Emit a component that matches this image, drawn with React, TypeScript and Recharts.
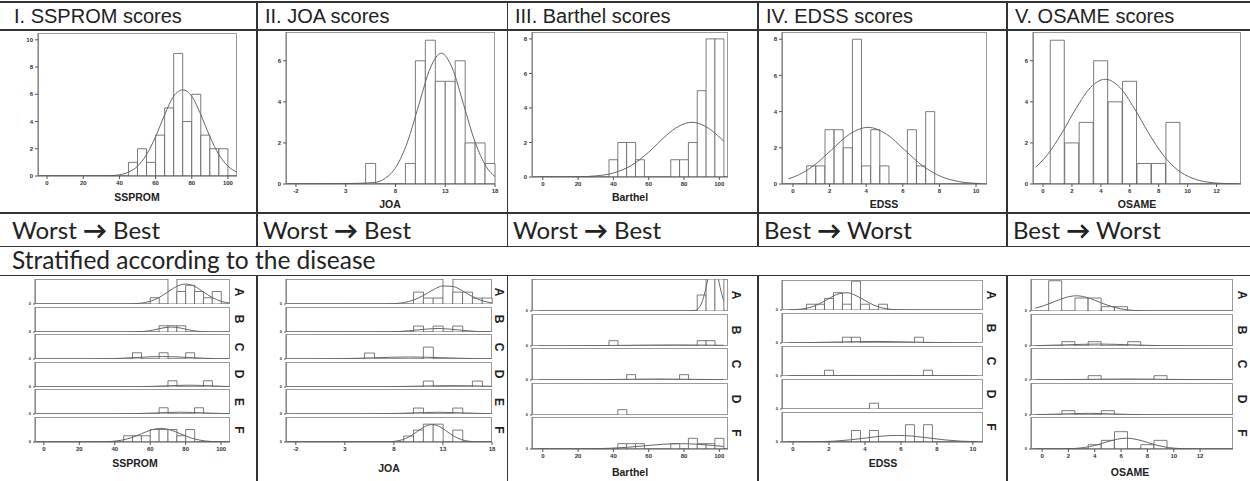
import React from "react";
import { Bar, ComposedChart, Line, XAxis, YAxis } from "recharts";

type Pair = [number, number];

// ---------- whole sample: [bin centre, count] ----------
const sspromCounts: Pair[] = [[47.5, 1], [52.5, 2], [57.5, 1], [62.5, 3], [67.5, 5], [72.5, 9], [77.5, 4], [82.5, 6], [87.5, 3], [92.5, 2], [97.5, 2]];
const joaCounts: Pair[] = [[5.5, 1], [9.5, 1], [10.5, 6], [11.5, 7], [12.5, 5], [13.5, 5], [14.5, 6], [15.5, 2], [16.5, 2], [17.5, 1]];
const barthelCounts: Pair[] = [[40, 1], [45, 2], [50, 2], [55, 1], [75, 1], [80, 1], [85, 2], [90, 5], [95, 8], [100, 8]];
const edssCounts: Pair[] = [[1, 1], [1.5, 1], [2, 3], [2.5, 3], [3, 2], [3.5, 8], [4, 1], [4.5, 3], [5, 1], [6.5, 3], [7, 1], [7.5, 4]];
const osameCounts: Pair[] = [[1, 7], [2, 2], [3, 3], [4, 6], [5, 4], [6, 5], [7, 1], [8, 1], [9, 3]];

// normal curves: [x, height]
const sspromCurve: Pair[] = [[-5, 0], [30, 0.01], [35, 0.02], [40, 0.09], [45, 0.28], [50, 0.72], [55, 1.57], [60, 2.89], [65, 4.5], [70, 5.86], [75, 6.32], [80, 5.86], [85, 4.5], [90, 2.89], [95, 1.57], [100, 0.72], [105, 0.28]];
const joaCurve: Pair[] = [[-3, 0], [4, 0.03], [5.85, 0.07], [7, 0.29], [8.1, 0.86], [9.2, 2.04], [10.35, 3.86], [11.5, 5.65], [12.6, 6.37], [13.7, 5.65], [14.85, 3.86], [16, 2.04], [17.1, 0.86], [18, 0.36]];
const barthelCurve: Pair[] = [[-5, 0], [20, 0.013], [30, 0.064], [40, 0.23], [50, 0.66], [60, 1.44], [70, 2.41], [77, 2.94], [84.5, 3.17], [92, 2.94], [99, 2.41], [107, 1.6]];
const edssCurve: Pair[] = [[-0.6, 0.19], [0.1, 0.41], [1.1, 0.99], [2.1, 1.88], [3.1, 2.76], [4.1, 3.13], [5.1, 2.76], [6.1, 1.88], [7.1, 0.99], [8.1, 0.41], [9.1, 0.13], [10.1, 0.03], [10.6, 0.01]];
const osameCurve: Pair[] = [[-0.7, 0.69], [0.3, 1.42], [1.3, 2.48], [2.3, 3.7], [3.3, 4.71], [4.3, 5.1], [5.3, 4.71], [6.3, 3.7], [7.3, 2.48], [8.3, 1.42], [9.3, 0.69], [10.3, 0.29], [11.3, 0.1], [12.3, 0.03], [13.7, 0]];

// ---------- stratified by disease ----------
const sspromA: Pair[] = [[62.5, 1], [72.5, 5], [77.5, 2], [82.5, 3], [87.5, 2], [92.5, 1], [97.5, 2]];
const sspromB: Pair[] = [[67.5, 1], [72.5, 1], [77.5, 1]];
const sspromC: Pair[] = [[52.5, 1], [67.5, 1], [82.5, 1]];
const sspromD: Pair[] = [[72.5, 1], [92.5, 1]];
const sspromE: Pair[] = [[67.5, 1], [87.5, 1]];
const sspromF: Pair[] = [[47.5, 1], [52.5, 1], [57.5, 1], [62.5, 2], [67.5, 2], [72.5, 2], [77.5, 1], [82.5, 2]];
const sspromCurveA: Pair[] = [[-5, 0], [40, 0], [45, 0.01], [50, 0.04], [55, 0.14], [60, 0.43], [65, 1.04], [70, 1.94], [75, 2.82], [80, 3.19], [85, 2.82], [90, 1.94], [95, 1.04], [100, 0.43], [105, 0.14]];
const sspromCurveB: Pair[] = [[-5, 0], [45, 0], [50, 0.01], [57, 0.11], [62, 0.33], [67, 0.64], [72, 0.8], [77, 0.64], [82, 0.33], [87, 0.11], [94, 0.01], [105, 0]];
const sspromCurveC: Pair[] = [[-5, 0], [22, 0.004], [37, 0.05], [52, 0.24], [67, 0.4], [82, 0.24], [97, 0.05], [105, 0.02]];
const sspromCurveD: Pair[] = [[-5, 0], [40, 0.003], [54, 0.04], [68, 0.17], [82, 0.29], [96, 0.17], [105, 0.07]];
const sspromCurveE: Pair[] = [[-5, 0], [35, 0.003], [49, 0.04], [63, 0.17], [77, 0.29], [91, 0.17], [105, 0.04]];
const sspromCurveF: Pair[] = [[-5, 0], [33, 0.02], [38.5, 0.1], [44, 0.3], [49.5, 0.7], [55, 1.32], [60.5, 1.92], [66, 2.18], [71.5, 1.92], [77, 1.32], [82.5, 0.7], [88, 0.3], [93.5, 0.1], [99, 0.02], [105, 0]];

const joaA: Pair[] = [[10.5, 2], [11.5, 1], [12.5, 1], [13.5, 5], [14.5, 2], [15.5, 2], [16.5, 1], [17.5, 1]];
const joaB: Pair[] = [[10.5, 1], [12.5, 1], [14.5, 1]];
const joaC: Pair[] = [[5.5, 1], [11.5, 2]];
const joaD: Pair[] = [[11.5, 1], [16.5, 1]];
const joaE: Pair[] = [[10.5, 1], [14.5, 1]];
const joaF: Pair[] = [[9.5, 1], [10.5, 2], [11.5, 3], [12.5, 3], [14.5, 2]];
const joaCurveA: Pair[] = [[-3, 0], [7, 0.01], [8, 0.06], [9, 0.23], [10, 0.66], [11, 1.43], [12, 2.39], [13, 3.03], [14, 2.95], [15, 2.2], [16, 1.25], [17, 0.55], [18, 0.18]];
const joaCurveB: Pair[] = [[-3, 0], [7, 0.01], [8.5, 0.08], [10.5, 0.36], [12.5, 0.6], [14.5, 0.36], [16.5, 0.08], [18, 0.01]];
const joaCurveC: Pair[] = [[-3, 0], [-1, 0.004], [2.5, 0.05], [6, 0.21], [9.5, 0.34], [13, 0.21], [16.5, 0.05], [18, 0.02]];
const joaCurveD: Pair[] = [[-3, 0], [3.5, 0.003], [7, 0.03], [10.5, 0.14], [14, 0.23], [17.5, 0.14], [18.2, 0.11]];
const joaCurveE: Pair[] = [[-3, 0], [4, 0.003], [7, 0.04], [9.7, 0.17], [12.5, 0.29], [15.3, 0.17], [18, 0.04]];
const joaCurveF: Pair[] = [[-3, 0], [7.4, 0.03], [8.15, 0.13], [8.9, 0.4], [9.65, 0.95], [10.4, 1.78], [11.15, 2.59], [11.9, 2.93], [12.65, 2.59], [13.4, 1.78], [14.15, 0.95], [14.9, 0.4], [15.65, 0.13], [16.4, 0.03], [18, 0]];

const barthelA: Pair[] = [[90, 3], [95, 6], [100, 6]];
const barthelB: Pair[] = [[40, 1], [90, 1], [95, 1]];
const barthelC: Pair[] = [[50, 1], [80, 1]];
const barthelD: Pair[] = [[45, 1]];
const barthelF: Pair[] = [[45, 1], [50, 1], [55, 1], [75, 1], [85, 2], [90, 1], [95, 1], [100, 2]];
const barthelCurveA: Pair[] = [[-5, 0], [80, 0], [86, 0.1], [88, 0.45], [90, 1.5], [92, 3.7], [94, 6.6], [96.5, 8.55], [99, 6.6], [101, 3.7], [103, 1.5], [105, 0.45], [107, 0.1]];
const barthelCurveB: Pair[] = [[-5, 0.01], [15, 0.03], [45, 0.12], [75, 0.2], [105, 0.12]];
const barthelCurveC: Pair[] = [[-5, 0.01], [23, 0.03], [44, 0.12], [65, 0.19], [86, 0.12], [107, 0.04]];
const barthelCurveF: Pair[] = [[-5, 0], [18, 0.01], [28, 0.04], [38, 0.14], [48, 0.32], [58, 0.61], [68, 0.88], [78, 1.0], [88, 0.88], [98, 0.61], [107, 0.35]];

const edssA: Pair[] = [[1, 1], [1.5, 1], [2, 2], [2.5, 3], [3, 1], [3.5, 5], [4, 1], [5, 1]];
const edssB: Pair[] = [[3, 1], [3.5, 1], [7, 1]];
const edssC: Pair[] = [[2, 1], [7.5, 1]];
const edssD: Pair[] = [[4.5, 1]];
const edssF: Pair[] = [[3.5, 2], [4.5, 2], [6.5, 3], [7.5, 3]];
const edssCurveA: Pair[] = [[-0.6, 0.01], [0, 0.05], [0.5, 0.17], [1, 0.49], [1.5, 1.13], [2, 2.0], [2.5, 2.77], [3, 2.99], [3.5, 2.5], [4, 1.64], [4.5, 0.83], [5, 0.33], [5.5, 0.1], [6, 0.03], [7, 0], [10.6, 0]];
const edssCurveB: Pair[] = [[-0.6, 0.02], [0, 0.03], [2.3, 0.16], [4.5, 0.27], [6.7, 0.16], [9, 0.03], [10.6, 0.01]];
const edssCurveC: Pair[] = [[-0.6, 0.04], [2.8, 0.09], [4.75, 0.1], [6.7, 0.09], [10.6, 0.03]];
const edssCurveF: Pair[] = [[-0.6, 0], [0.5, 0.01], [1.5, 0.05], [2.3, 0.15], [3.2, 0.38], [4.1, 0.71], [5, 1.03], [5.8, 1.14], [6.6, 1.03], [7.5, 0.71], [8.4, 0.38], [9.3, 0.15], [10.2, 0.05], [10.6, 0.03]];

const osameA: Pair[] = [[1, 7], [3, 3], [4, 3], [5, 1], [6, 1]];
const osameB: Pair[] = [[2, 1], [4, 1], [7, 1]];
const osameC: Pair[] = [[4, 1], [9, 1]];
const osameD: Pair[] = [[2, 1], [5, 1]];
const osameF: Pair[] = [[4, 1], [5, 2], [6, 4], [8, 1], [9, 2]];
const osameCurveA: Pair[] = [[-0.9, 0.42], [0, 1.09], [1, 2.25], [2, 3.29], [2.6, 3.52], [3.5, 3.05], [4.5, 1.87], [5.5, 0.83], [6.5, 0.25], [7.5, 0.06], [8.5, 0.01], [14.5, 0]];
const osameCurveB: Pair[] = [[-0.9, 0.05], [1.8, 0.27], [4.3, 0.45], [6.8, 0.27], [9.3, 0.06], [12, 0.01], [14.5, 0]];
const osameCurveC: Pair[] = [[-0.9, 0.03], [3, 0.14], [6.5, 0.23], [10, 0.14], [13.5, 0.03], [14.5, 0.01]];
const osameCurveD: Pair[] = [[-0.9, 0.04], [1.4, 0.23], [3.5, 0.38], [5.6, 0.23], [7.7, 0.05], [10, 0.003], [14.5, 0]];
const osameCurveF: Pair[] = [[-0.9, 0], [0.8, 0], [1.6, 0.03], [2.4, 0.11], [3.2, 0.34], [4, 0.81], [4.8, 1.52], [5.6, 2.2], [6.4, 2.5], [7.2, 2.2], [8, 1.52], [8.8, 0.81], [9.6, 0.34], [10.4, 0.11], [11.2, 0.03], [12, 0], [14.5, 0]];

// ---------- axis ticks ----------
const ticks0to100 = [0, 20, 40, 60, 80, 100];
const joaTicks = [-2, 3, 8, 13, 18];
const edssTicks = [0, 2, 4, 6, 8, 10];
const osameTicks = [0, 2, 4, 6, 8, 10, 12];

const headers = ["I. SSPROM scores", "II. JOA scores", "III. Barthel scores", "IV. EDSS scores", "V. OSAME scores"];
const directions = [["Worst", "Best"], ["Worst", "Best"], ["Worst", "Best"], ["Best", "Worst"], ["Best", "Worst"]];

type XCfg = { lo: number; bw: number; n: number; padL: number; padR: number; ticks: number[] };
type Box = { x: number; y: number; w: number; h: number };

const makeBins = (xc: XCfg, counts: Pair[]) =>
  Array.from({ length: xc.n }, (_, i) => {
    const c = xc.lo + xc.bw * (i + 0.5);
    const hit = counts.find(([v]) => Math.abs(v - c) < xc.bw / 4);
    return { bin: String(i), n: hit ? hit[1] : 0 };
  });

const FONT = "'Liberation Sans', Arial, sans-serif";
const CAL = "Lato, 'Open Sans', sans-serif";
const tickFont = { fontSize: 6, fontWeight: 700, fill: "#333", fontFamily: FONT };

function Hist({ box, xc, counts, curve, yDomain, yTicks, showX, small }: {
  box: Box; xc: XCfg; counts: Pair[]; curve: Pair[] | null;
  yDomain: [number, number]; yTicks: number[]; showX: boolean; small?: boolean;
}) {
  const yw = 22;
  const rm = 7;
  const xh = showX ? 14 : 0;
  const bm = showX ? 0 : 4;
  const hi = xc.lo + xc.bw * xc.n;
  const line = curve ? curve.map(([x, y]) => ({ x, y })) : [];
  return (
    <>
      {/* SPSS style plot frame */}
      <div style={{ position: "absolute", left: box.x, top: box.y, width: box.w, height: box.h, border: "1px solid #9a9a9a", boxSizing: "border-box" }} />
      <div style={{ position: "absolute", left: box.x - yw, top: box.y - 2 }}>
        <ComposedChart
          width={box.w + yw + rm}
          height={box.h + 2 + xh + bm}
          data={makeBins(xc, counts)}
          margin={{ top: 2, right: rm, bottom: bm, left: 0 }}
          barCategoryGap={0}
          barGap={0}
        >
          <XAxis
            xAxisId="num"
            dataKey="x"
            type="number"
            domain={[xc.lo, hi]}
            allowDataOverflow
            padding={{ left: xc.padL, right: xc.padR }}
            ticks={showX ? xc.ticks : []}
            interval={0}
            height={xh}
            tick={showX ? tickFont : false}
            tickSize={showX ? 3 : 0}
            tickLine={showX ? { stroke: "#555" } : false}
            axisLine={{ stroke: "#555" }}
          />
          <XAxis xAxisId="cat" dataKey="bin" type="category" hide height={0} orientation="top" padding={{ left: xc.padL, right: xc.padR }} />
          <YAxis
            yAxisId="l"
            type="number"
            domain={yDomain}
            allowDataOverflow
            ticks={yTicks}
            interval={0}
            width={yw}
            tick={{ ...tickFont, fontSize: small ? 4 : 6 }}
            tickSize={small ? 2 : 3}
            tickLine={{ stroke: "#555" }}
            axisLine={{ stroke: "#777" }}
          />
          <Bar xAxisId="cat" yAxisId="l" dataKey="n" fill="#fff" stroke="#5a5a5a" strokeWidth={0.8} isAnimationActive={false} />
          {curve && (
            <Line
              xAxisId="num"
              yAxisId="l"
              data={line}
              dataKey="y"
              type="monotone"
              stroke="#666"
              strokeWidth={1}
              dot={false}
              activeDot={false}
              isAnimationActive={false}
            />
          )}
        </ComposedChart>
      </div>
    </>
  );
}

type Row = { label: string; counts: Pair[]; curve: Pair[] | null };

function Strata({ x, w, y0, rowH, step, xc, rows, yMax, letterX }: {
  x: number; w: number; y0: number; rowH: number; step: number; xc: XCfg; rows: Row[]; yMax: number; letterX: number;
}) {
  return (
    <>
      {rows.map((r, i) => {
        const top = y0 + i * step;
        return (
          <React.Fragment key={r.label}>
            <Hist
              box={{ x, y: top, w, h: rowH }}
              xc={xc}
              counts={r.counts}
              curve={r.curve}
              yDomain={[0, yMax]}
              yTicks={[0]}
              showX={i === rows.length - 1}
              small
            />
            <div
              style={{
                position: "absolute",
                left: letterX,
                top: top + rowH / 2,
                transform: "translate(-50%, -50%) rotate(90deg)",
                font: `bold 12px ${FONT}`,
                color: "#222",
              }}
            >
              {r.label}
            </div>
          </React.Fragment>
        );
      })}
    </>
  );
}

const Title = ({ cx, cy, text }: { cx: number; cy: number; text: string }) => (
  <div style={{ position: "absolute", left: cx, top: cy, transform: "translate(-50%, -50%)", font: `bold 10.5px ${FONT}`, color: "#222", whiteSpace: "nowrap" }}>
    {text}
  </div>
);

const HLine = ({ y }: { y: number }) => (
  <div style={{ position: "absolute", left: 0, top: y, width: 1250, height: 1.5, background: "#333" }} />
);
const VLine = ({ x, y1, y2 }: { x: number; y1: number; y2: number }) => (
  <div style={{ position: "absolute", left: x, top: y1, width: 1.5, height: y2 - y1, background: "#333" }} />
);

// x scales
const xSsprom: XCfg = { lo: -5, bw: 5, n: 22, padL: 0, padR: 0, ticks: ticks0to100 };
const xJoa: XCfg = { lo: -3, bw: 1, n: 21, padL: 0, padR: 0, ticks: joaTicks };
const xBarthel: XCfg = { lo: -2.5, bw: 5, n: 21, padL: 6.4, padR: 4.3, ticks: ticks0to100 };
const xEdss: XCfg = { lo: -0.25, bw: 0.5, n: 21, padL: 6.4, padR: 6.4, ticks: edssTicks };
const xOsame: XCfg = { lo: -0.5, bw: 1, n: 14, padL: 2.8, padR: 2.8, ticks: osameTicks };
const xEdssB: XCfg = { lo: -0.25, bw: 0.5, n: 21, padL: 6.5, padR: 5.6, ticks: edssTicks };
const xOsameB: XCfg = { lo: -0.5, bw: 1, n: 15, padL: 4.5, padR: 0, ticks: osameTicks };

const colLeft = [14, 265, 515, 766, 1015];
const vx = [256, 506.5, 757, 1006];

export default function App() {
  return (
    <div style={{ position: "relative", width: 1250, height: 481, background: "#fff", overflow: "hidden" }}>
      <style>{"body{margin:0}"}</style>

      <HLine y={1} />
      <HLine y={29} />
      <HLine y={212} />
      <HLine y={245.5} />
      <HLine y={274.5} />
      {vx.map((x) => (
        <React.Fragment key={x}>
          <VLine x={x} y1={1} y2={246} />
          <VLine x={x} y1={275} y2={481} />
        </React.Fragment>
      ))}

      {headers.map((h, i) => (
        <div key={h} style={{ position: "absolute", left: colLeft[i], top: 5, font: `20px ${FONT}`, lineHeight: "22px", color: "#222", whiteSpace: "nowrap" }}>
          {h}
        </div>
      ))}
      {directions.map(([a, b], i) => (
        <div key={i} style={{ position: "absolute", left: colLeft[i] - 2, top: 215, font: `24px ${CAL}`, lineHeight: "30px", color: "#222", whiteSpace: "nowrap" }}>
          {a} <span style={{ fontWeight: 900 }}>{"\u2192"}</span> {b}
        </div>
      ))}
      <div style={{ position: "absolute", left: 12, top: 245, font: `24.5px ${CAL}`, lineHeight: "30px", color: "#222", whiteSpace: "nowrap" }}>
        Stratified according to the disease
      </div>

      {/* overall histograms */}
      <Hist box={{ x: 38, y: 33, w: 199, h: 143 }} xc={xSsprom} counts={sspromCounts} curve={sspromCurve} yDomain={[0, 10.5]} yTicks={[0, 2, 4, 6, 8, 10]} showX />
      <Hist box={{ x: 286, y: 32, w: 209, h: 152 }} xc={xJoa} counts={joaCounts} curve={joaCurve} yDomain={[0, 7.4]} yTicks={[0, 2, 4, 6]} showX />
      <Hist box={{ x: 532, y: 32, w: 196, h: 145 }} xc={xBarthel} counts={barthelCounts} curve={barthelCurve} yDomain={[0, 8.4]} yTicks={[0, 2, 4, 6, 8]} showX />
      <Hist box={{ x: 782, y: 32, w: 205, h: 152 }} xc={xEdss} counts={edssCounts} curve={edssCurve} yDomain={[0, 8.4]} yTicks={[0, 2, 4, 6, 8]} showX />
      <Hist box={{ x: 1033, y: 32, w: 208, h: 152 }} xc={xOsame} counts={osameCounts} curve={osameCurve} yDomain={[0, 7.4]} yTicks={[0, 2, 4, 6]} showX />
      <Title cx={137} cy={197} text="SSPROM" />
      <Title cx={390} cy={204} text="JOA" />
      <Title cx={630} cy={197} text="Barthel" />
      <Title cx={884} cy={204} text="EDSS" />
      <Title cx={1137} cy={204} text="OSAME" />

      {/* stratified */}
      <Strata x={35} w={195} y0={279} rowH={25} step={27.6} xc={xSsprom} yMax={4} letterX={239}
        rows={[
          { label: "A", counts: sspromA, curve: sspromCurveA },
          { label: "B", counts: sspromB, curve: sspromCurveB },
          { label: "C", counts: sspromC, curve: sspromCurveC },
          { label: "D", counts: sspromD, curve: sspromCurveD },
          { label: "E", counts: sspromE, curve: sspromCurveE },
          { label: "F", counts: sspromF, curve: sspromCurveF },
        ]} />
      <Strata x={286} w={206} y0={279} rowH={25} step={27.6} xc={xJoa} yMax={4.2} letterX={499}
        rows={[
          { label: "A", counts: joaA, curve: joaCurveA },
          { label: "B", counts: joaB, curve: joaCurveB },
          { label: "C", counts: joaC, curve: joaCurveC },
          { label: "D", counts: joaD, curve: joaCurveD },
          { label: "E", counts: joaE, curve: joaCurveE },
          { label: "F", counts: joaF, curve: joaCurveF },
        ]} />
      <Strata x={532} w={196} y0={279} rowH={32} step={34.5} xc={xBarthel} yMax={6} letterX={736}
        rows={[
          { label: "A", counts: barthelA, curve: barthelCurveA },
          { label: "B", counts: barthelB, curve: barthelCurveB },
          { label: "C", counts: barthelC, curve: barthelCurveC },
          { label: "D", counts: barthelD, curve: null },
          { label: "F", counts: barthelF, curve: barthelCurveF },
        ]} />
      <Strata x={782} w={201} y0={280} rowH={30} step={33} xc={xEdssB} yMax={5.2} letterX={991}
        rows={[
          { label: "A", counts: edssA, curve: edssCurveA },
          { label: "B", counts: edssB, curve: edssCurveB },
          { label: "C", counts: edssC, curve: edssCurveC },
          { label: "D", counts: edssD, curve: null },
          { label: "F", counts: edssF, curve: edssCurveF },
        ]} />
      <Strata x={1031} w={202} y0={279} rowH={32} step={34.5} xc={xOsameB} yMax={7.4} letterX={1242}
        rows={[
          { label: "A", counts: osameA, curve: osameCurveA },
          { label: "B", counts: osameB, curve: osameCurveB },
          { label: "C", counts: osameC, curve: osameCurveC },
          { label: "D", counts: osameD, curve: osameCurveD },
          { label: "F", counts: osameF, curve: osameCurveF },
        ]} />
      <Title cx={135} cy={463} text="SSPROM" />
      <Title cx={389} cy={468} text="JOA" />
      <Title cx={630} cy={472} text="Barthel" />
      <Title cx={883} cy={463} text="EDSS" />
      <Title cx={1130} cy={472} text="OSAME" />
    </div>
  );
}
